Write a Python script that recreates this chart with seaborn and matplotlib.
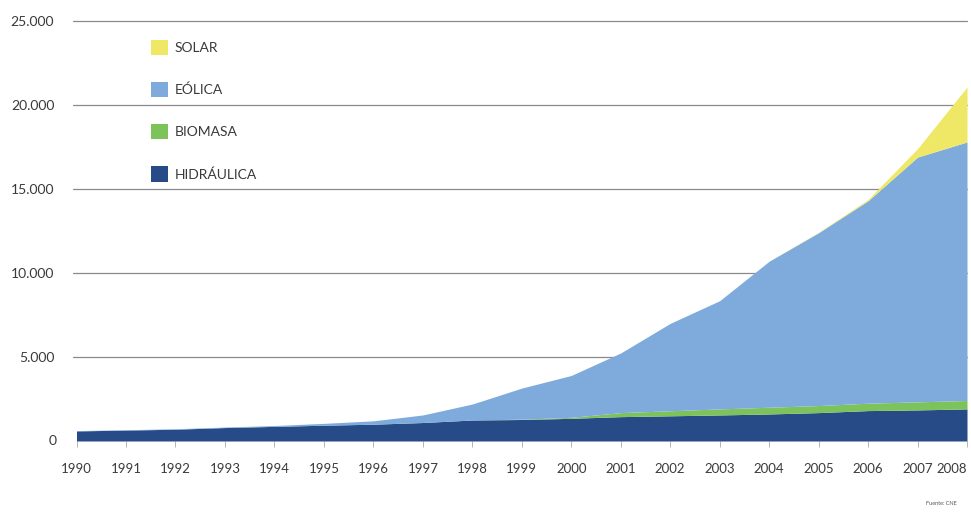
import matplotlib
matplotlib.use("Agg")
import matplotlib.pyplot as plt
import seaborn as sns
import pandas as pd
from matplotlib.patches import Patch

years = list(range(1990, 2009))
hidraulica = [600, 650, 700, 800, 870, 940, 1000, 1100, 1250, 1280, 1350, 1450, 1500, 1550, 1610, 1690, 1810, 1850, 1910]
biomasa = [0, 0, 0, 0, 0, 0, 0, 0, 0, 20, 60, 240, 300, 360, 400, 420, 440, 480, 500]
eolica = [20, 20, 30, 30, 50, 110, 200, 450, 950, 1850, 2490, 3550, 5200, 6440, 8690, 10290, 12050, 14570, 15390]
solar = [0, 0, 0, 0, 0, 0, 0, 0, 0, 0, 0, 0, 0, 0, 0, 20, 80, 500, 3270]
series_names = ["HIDRÁULICA", "BIOMASA", "EÓLICA", "SOLAR"]
colors = ["#264B86", "#7DC35B", "#7FAADC", "#EEE866"]
ytick_vals = [0, 5000, 10000, 15000, 20000, 25000]
ytick_labels = ["0", "5.000", "10.000", "15.000", "20.000", "25.000"]

df = pd.DataFrame({"year": years, "HIDRÁULICA": hidraulica, "BIOMASA": biomasa,
                   "EÓLICA": eolica, "SOLAR": solar})

sns.set_theme(style="white")
plt.rcParams["font.family"] = ["Lato", "DejaVu Sans"]

fig = plt.figure(figsize=(9.71, 5.12), dpi=100)
ax = fig.add_axes([76.5 / 971, 1 - 441 / 512, (967 - 76.5) / 971, (441 - 21) / 512])

ax.stackplot(df["year"], [df[n] for n in series_names], colors=colors, linewidth=0)

ax.set_xlim(1990, 2008)
ax.set_ylim(0, 25000)
ax.set_yticks(ytick_vals[1:])
ax.set_yticklabels(ytick_labels[1:])
for v in ytick_vals[1:]:
    ax.axhline(v, color="#8a8a8a", lw=0.9, zorder=0, xmin=-0.004, clip_on=False)
ax.set_xticks(years)
ax.set_xticklabels([str(y) for y in years])
ax.tick_params(axis="y", length=0, pad=16, labelsize=10, labelcolor="#3a3a3a")
ax.tick_params(axis="x", length=4, width=0.6, color="#aaaaaa", direction="out",
               pad=12, labelsize=9.5, labelcolor="#3a3a3a", bottom=True)
xt = ax.get_xticklabels()
xt[-1].set_horizontalalignment("right")
for s in ax.spines.values():
    s.set_visible(False)
ax.text(-0.022, 0, "0", transform=ax.get_yaxis_transform(), ha="right", va="center",
        fontsize=10, color="#3a3a3a")

handles = [Patch(facecolor=colors[i], edgecolor="none") for i in [3, 2, 1, 0]]
labels = [series_names[i] for i in [3, 2, 1, 0]]
leg = ax.legend(handles, labels, loc="upper left", bbox_to_anchor=(0.07, 0.985),
                frameon=False, fontsize=10, handlelength=1.2, handleheight=1.3,
                labelspacing=1.95, handletextpad=0.5)
for t in leg.get_texts():
    t.set_color("#3a3a3a")

fig.text(0.985, 0.012, "Fuente: CNE", fontsize=4, color="#555555", ha="right", va="bottom")

fig.savefig("out.png", dpi=100, facecolor="white")
